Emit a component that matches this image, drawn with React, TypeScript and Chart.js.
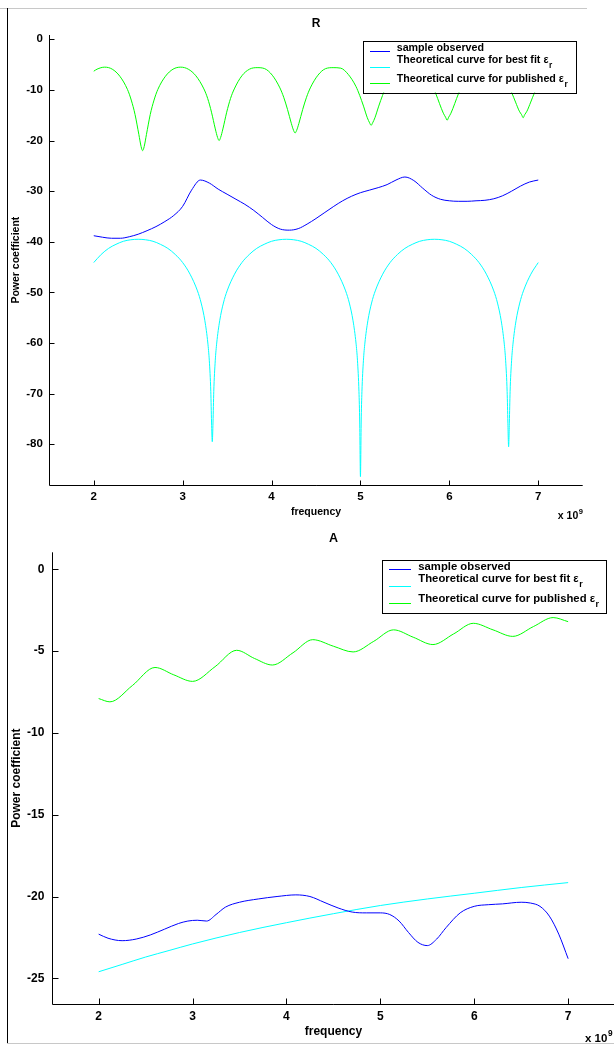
import React, { useEffect, useRef } from "react";
import { Chart, registerables } from "chart.js";

Chart.register(...registerables);

const FONT = "'Liberation Sans', Arial, Helvetica, sans-serif";
const BLUE = "#0000ff";
const CYAN = "#00ffff";
const GREEN = "#00ff00";

// ---------- tick values ----------
const freqTicks = [2, 3, 4, 5, 6, 7];
const rPowerTicks = [-80, -70, -60, -50, -40, -30, -20, -10, 0];
const aPowerTicks = [-25, -20, -15, -10, -5, 0];

// ---------- Figure R ----------
const rBlueFreq = [2.0, 2.1, 2.2, 2.3, 2.4, 2.5, 2.6, 2.7, 2.8, 2.9, 3.0, 3.1, 3.2, 3.3, 3.4, 3.5, 3.6, 3.7, 3.8, 3.9, 4.0, 4.1, 4.2, 4.3, 4.4, 4.5, 4.6, 4.7, 4.8, 4.9, 5.0, 5.1, 5.2, 5.3, 5.4, 5.5, 5.6, 5.7, 5.8, 5.9, 6.0, 6.1, 6.2, 6.3, 6.4, 6.5, 6.6, 6.7, 6.8, 6.9, 7.0];
const rBlueVal = [-38.8, -39.1, -39.3, -39.3, -39.0, -38.5, -37.8, -37.0, -36.0, -34.8, -33.0, -29.8, -27.8, -28.4, -29.6, -30.6, -31.6, -32.6, -33.8, -35.2, -36.6, -37.5, -37.7, -37.4, -36.5, -35.4, -34.2, -33.0, -31.9, -31.0, -30.3, -29.8, -29.3, -28.7, -27.8, -27.2, -27.9, -29.4, -30.8, -31.6, -31.9, -32.0, -32.0, -31.9, -31.8, -31.5, -30.9, -30.0, -29.0, -28.2, -27.8];

const rCyanFreq = [2.0, 2.0833, 2.1667, 2.25, 2.3333, 2.4167, 2.5, 2.5833, 2.6667, 2.75, 2.8333, 2.9167, 3.0, 3.0833, 3.1667, 3.2083, 3.25, 3.2833, 3.3, 3.3167, 3.325, 3.3333, 3.3417, 3.35, 3.3667, 3.3833, 3.4167, 3.4583, 3.5, 3.5833, 3.6667, 3.75, 3.8333, 3.9167, 4.0, 4.0833, 4.1667, 4.25, 4.3333, 4.4167, 4.5, 4.5833, 4.6667, 4.75, 4.8333, 4.875, 4.9167, 4.95, 4.9667, 4.9833, 4.9917, 5.0, 5.0083, 5.0167, 5.0333, 5.05, 5.0833, 5.125, 5.1667, 5.25, 5.3333, 5.4167, 5.5, 5.5833, 5.6667, 5.75, 5.8333, 5.9167, 6.0, 6.0833, 6.1667, 6.25, 6.3333, 6.4167, 6.5, 6.5417, 6.5833, 6.6167, 6.6333, 6.65, 6.6583, 6.6667, 6.675, 6.6833, 6.7, 6.7167, 6.75, 6.7917, 6.8333, 6.9167, 7.0];
const rCyanVal = [-44.1, -42.5, -41.3, -40.5, -39.9, -39.6, -39.5, -39.6, -39.9, -40.5, -41.3, -42.5, -44.1, -46.4, -49.7, -52.1, -55.6, -60.0, -63.5, -69.6, -75.6, -79.5, -75.6, -69.6, -63.5, -60.0, -55.6, -52.1, -49.7, -46.4, -44.1, -42.5, -41.3, -40.5, -39.9, -39.6, -39.5, -39.6, -39.9, -40.5, -41.3, -42.5, -44.1, -46.4, -49.7, -52.1, -55.6, -60.0, -63.5, -69.6, -75.6, -86.4, -75.6, -69.6, -63.5, -60.0, -55.6, -52.1, -49.7, -46.4, -44.1, -42.5, -41.3, -40.5, -39.9, -39.6, -39.5, -39.6, -39.9, -40.5, -41.3, -42.5, -44.1, -46.4, -49.7, -52.1, -55.6, -60.0, -63.5, -69.6, -75.6, -80.5, -75.6, -69.6, -63.5, -60.0, -55.6, -52.1, -49.7, -46.4, -44.1];

const rGreenFreq = [2.0, 2.037, 2.1225, 2.208, 2.2935, 2.379, 2.4218, 2.4645, 2.5073, 2.5329, 2.55, 2.5671, 2.5928, 2.6355, 2.6783, 2.721, 2.8065, 2.892, 2.9775, 3.063, 3.1485, 3.239, 3.2818, 3.3245, 3.3673, 3.3929, 3.41, 3.4271, 3.4528, 3.4955, 3.5383, 3.581, 3.6665, 3.752, 3.8375, 3.923, 4.0085, 4.094, 4.1368, 4.1795, 4.2223, 4.2479, 4.265, 4.2821, 4.3078, 4.3505, 4.3933, 4.436, 4.5215, 4.607, 4.6925, 4.778, 4.8635, 4.949, 4.9918, 5.0345, 5.0773, 5.1029, 5.12, 5.1371, 5.1628, 5.2055, 5.2483, 5.291, 5.3765, 5.462, 5.5475, 5.633, 5.7185, 5.804, 5.8468, 5.8895, 5.9323, 5.9579, 5.975, 5.9921, 6.0178, 6.0605, 6.1033, 6.146, 6.2315, 6.317, 6.4025, 6.488, 6.5735, 6.659, 6.7018, 6.7445, 6.7873, 6.8129, 6.83, 6.8471, 6.8728, 6.9155, 6.9583, 7.0];
const rGreenVal = [-6.3, -5.9, -5.5, -5.9, -7.3, -9.9, -12.0, -14.85, -18.8, -21.2, -22.0, -21.2, -18.8, -14.85, -12.0, -9.9, -7.3, -5.9, -5.5, -5.9, -7.2, -9.8, -11.7, -14.4, -17.7, -19.4, -20.0, -19.4, -17.7, -14.4, -11.7, -9.8, -7.2, -5.9, -5.6, -5.8, -7.1, -9.6, -11.45, -13.85, -16.6, -18.0, -18.5, -18.0, -16.6, -13.85, -11.45, -9.6, -7.1, -5.8, -5.6, -5.7, -6.95, -9.3, -11.1, -13.2, -15.5, -16.5, -17.0, -16.5, -15.5, -13.2, -11.1, -9.3, -6.95, -5.7, -5.6, -5.6, -6.8, -9.1, -10.7, -12.7, -14.6, -15.4, -16.0, -15.4, -14.6, -12.7, -10.7, -9.1, -6.8, -5.6, -5.5, -5.6, -6.7, -9.0, -10.55, -12.4, -14.2, -14.9, -15.5, -14.9, -14.2, -12.4, -10.55, -9.2];

// ---------- Figure A ----------
const aBlueFreq = [2.0, 2.1, 2.25, 2.4, 2.55, 2.7, 2.85, 2.95, 3.05, 3.15, 3.25, 3.35, 3.5, 3.7, 3.9, 4.1, 4.25, 4.4, 4.55, 4.7, 4.85, 5.0, 5.1, 5.2, 5.3, 5.4, 5.5, 5.6, 5.7, 5.85, 6.0, 6.15, 6.3, 6.5, 6.6, 6.7, 6.8, 6.9, 7.0];
const aBlueVal = [-22.3, -22.55, -22.7, -22.6, -22.35, -22.0, -21.65, -21.5, -21.45, -21.5, -21.1, -20.65, -20.35, -20.15, -20.0, -19.9, -20.0, -20.35, -20.7, -20.95, -21.0, -21.0, -21.1, -21.5, -22.2, -22.8, -23.0, -22.6, -21.9, -21.0, -20.6, -20.5, -20.45, -20.35, -20.4, -20.6, -21.2, -22.3, -23.8];

const aCyanFreq = [2.0, 2.25, 2.5, 2.75, 3.0, 3.5, 4.0, 4.5, 5.0, 5.5, 6.0, 6.5, 7.0];
const aCyanVal = [-24.6, -24.15, -23.7, -23.3, -22.9, -22.2, -21.6, -21.05, -20.55, -20.15, -19.8, -19.45, -19.15];

const aGreenFreq = [2.0, 2.12, 2.36, 2.6, 2.8, 3.0, 3.24, 3.47, 3.66, 3.85, 4.07, 4.28, 4.5, 4.71, 4.93, 5.14, 5.35, 5.56, 5.78, 5.99, 6.2, 6.41, 6.63, 6.84, 7.0];
const aGreenVal = [-7.9, -8.1, -7.1, -6.0, -6.45, -6.85, -5.95, -4.95, -5.45, -5.85, -5.1, -4.3, -4.7, -5.05, -4.4, -3.7, -4.15, -4.6, -3.95, -3.3, -3.7, -4.1, -3.5, -2.95, -3.2];

// ---------- shared text ----------
const legendTexts = ["sample observed", "Theoretical curve for best fit ε", "Theoretical curve for published ε"];
const legendSubs = ["", "r", "r"];
const legendColors = [BLUE, CYAN, GREEN];
const xLabel = "frequency";
const yLabel = "Power coefficient";

type Series = { x: number[]; y: number[]; color: string };

type Cfg = {
  title: string;
  titleY: number;
  titleSize: number;
  width: number;
  height: number;
  top: number;
  padTop: number;
  padRight: number;
  yWidth: number;
  xHeight: number;
  yMin: number;
  yMax: number;
  yTicks: number[];
  tickSize: number;
  labelSize: number;
  yTickPad: number;
  xTickPad: number;
  yTitlePad: number;
  xTitlePad: number;
  tickLen: number;
  expRight: number;
  expBaseline: number;
  expSize: number;
  legend: {
    left: number;
    top: number;
    width: number;
    height: number;
    lineX0: number;
    lineX1: number;
    textX: number;
    textY: number[];
    lineY: number[];
    size: number;
  };
  series: Series[];
};

function makeDecor(cfg: Cfg) {
  return {
    id: "matlabDecor",
    afterDraw(chart: any) {
      const { ctx, chartArea: a, scales } = chart;
      const xs = scales.x;
      const ys = scales.y;
      ctx.save();
      ctx.lineWidth = 1;
      ctx.strokeStyle = "#000";
      const L = Math.round(a.left) + 0.5;
      const B = Math.round(a.bottom) + 0.5;
      ctx.beginPath();
      ctx.moveTo(L, a.top);
      ctx.lineTo(L, B);
      ctx.lineTo(a.right, B);
      ctx.stroke();
      ctx.beginPath();
      xs.ticks.forEach((t: any) => {
        const px = Math.round(xs.getPixelForValue(t.value)) + 0.5;
        ctx.moveTo(px, B);
        ctx.lineTo(px, B - cfg.tickLen);
      });
      ys.ticks.forEach((t: any) => {
        const py = Math.round(ys.getPixelForValue(t.value)) + 0.5;
        ctx.moveTo(L, py);
        ctx.lineTo(L + cfg.tickLen, py);
      });
      ctx.stroke();

      // title
      ctx.fillStyle = "#000";
      ctx.font = `bold ${cfg.titleSize}px ${FONT}`;
      ctx.textAlign = "center";
      ctx.textBaseline = "middle";
      ctx.fillText(cfg.title, (a.left + a.right) / 2, cfg.titleY);

      // exponent label
      ctx.textBaseline = "alphabetic";
      ctx.textAlign = "left";
      const supSize = cfg.expSize * 0.72;
      ctx.font = `bold ${supSize}px ${FONT}`;
      const w9 = ctx.measureText("9").width;
      ctx.font = `bold ${cfg.expSize}px ${FONT}`;
      const wMain = ctx.measureText("x 10").width;
      const ex = cfg.expRight - w9 - wMain;
      ctx.fillText("x 10", ex, cfg.expBaseline);
      ctx.font = `bold ${supSize}px ${FONT}`;
      ctx.fillText("9", ex + wMain + 0.5, cfg.expBaseline - cfg.expSize * 0.5);

      // legend
      const lg = cfg.legend;
      ctx.fillStyle = "#fff";
      ctx.fillRect(lg.left, lg.top, lg.width, lg.height);
      ctx.strokeStyle = "#000";
      ctx.strokeRect(Math.round(lg.left) + 0.5, Math.round(lg.top) + 0.5, Math.round(lg.width), Math.round(lg.height));
      legendTexts.forEach((txt, i) => {
        const ly = Math.round(lg.top + lg.lineY[i]) + 0.5;
        ctx.strokeStyle = legendColors[i];
        ctx.beginPath();
        ctx.moveTo(Math.round(lg.left + lg.lineX0), ly);
        ctx.lineTo(Math.round(lg.left + lg.lineX1), ly);
        ctx.stroke();
        ctx.fillStyle = "#000";
        ctx.font = `bold ${lg.size}px ${FONT}`;
        ctx.textBaseline = "middle";
        ctx.textAlign = "left";
        const tx = lg.left + lg.textX;
        const ty = lg.top + lg.textY[i];
        ctx.fillText(txt, tx, ty);
        if (legendSubs[i]) {
          const w = ctx.measureText(txt).width;
          ctx.font = `bold ${lg.size * 0.78}px ${FONT}`;
          ctx.fillText(legendSubs[i], tx + w + 0.5, ty + lg.size * 0.5);
        }
      });
      ctx.restore();
    },
  };
}

function MatlabFigure({ cfg }: { cfg: Cfg }) {
  const ref = useRef<HTMLCanvasElement | null>(null);
  useEffect(() => {
    if (!ref.current) return;
    const tickFont = { family: FONT, size: cfg.tickSize, weight: "bold" as const };
    const labelFont = { family: FONT, size: cfg.labelSize, weight: "bold" as const };
    const chart = new Chart(ref.current, {
      type: "line",
      data: {
        datasets: cfg.series.map((s) => ({
          data: s.x.map((x, i) => ({ x, y: s.y[i] })),
          borderColor: s.color,
          backgroundColor: s.color,
          borderWidth: 1,
          pointRadius: 0,
          fill: false,
          cubicInterpolationMode: "monotone" as const,
        })),
      },
      options: {
        responsive: false,
        animation: false,
        events: [],
        layout: { padding: { top: cfg.padTop, right: cfg.padRight, bottom: 0, left: 0 } },
        plugins: { legend: { display: false }, tooltip: { enabled: false }, title: { display: false } },
        scales: {
          x: {
            type: "linear",
            min: 1.5,
            max: 7.5,
            grid: { display: false, drawTicks: false },
            border: { display: false },
            ticks: { color: "#000", font: tickFont, padding: cfg.xTickPad, maxRotation: 0 },
            afterBuildTicks: (s: any) => {
              s.ticks = freqTicks.map((v) => ({ value: v }));
            },
            title: { display: true, text: xLabel, color: "#000", font: labelFont, padding: { top: 0, bottom: cfg.xTitlePad } },
            afterFit: (s: any) => {
              s.height = cfg.xHeight;
            },
          },
          y: {
            type: "linear",
            min: cfg.yMin,
            max: cfg.yMax,
            grid: { display: false, drawTicks: false },
            border: { display: false },
            ticks: { color: "#000", font: tickFont, padding: cfg.yTickPad },
            afterBuildTicks: (s: any) => {
              s.ticks = cfg.yTicks.map((v) => ({ value: v }));
            },
            title: { display: true, text: yLabel, color: "#000", font: labelFont, padding: { top: cfg.yTitlePad, bottom: 0 } },
            afterFit: (s: any) => {
              s.width = cfg.yWidth;
            },
          },
        },
      },
      plugins: [makeDecor(cfg)],
    });
    return () => chart.destroy();
  }, [cfg]);
  return (
    <div style={{ position: "absolute", left: 0, top: cfg.top, width: cfg.width, height: cfg.height }}>
      <canvas ref={ref} width={cfg.width} height={cfg.height} style={{ width: cfg.width, height: cfg.height, display: "block" }} />
    </div>
  );
}

const cfgR: Cfg = {
  title: "R",
  titleY: 24,
  titleSize: 12,
  width: 614,
  height: 527,
  top: 0,
  padTop: 35,
  padRight: 31.3,
  yWidth: 49.3,
  xHeight: 41.7,
  yMin: -88.1,
  yMax: 0.85,
  yTicks: rPowerTicks,
  tickSize: 11.5,
  labelSize: 10.5,
  yTickPad: 6.5,
  xTickPad: 5,
  yTitlePad: 9.5,
  xTitlePad: 8.5,
  tickLen: 5,
  expRight: 582.5,
  expBaseline: 519,
  expSize: 10.5,
  legend: {
    left: 363.3,
    top: 40.7,
    width: 213.4,
    height: 51.8,
    lineX0: 6.7,
    lineX1: 26.7,
    textX: 33.4,
    textY: [7.6, 19.3, 38.6],
    lineY: [10.6, 26.6, 42.6],
    size: 10.7,
  },
  series: [
    { x: rBlueFreq, y: rBlueVal, color: BLUE },
    { x: rCyanFreq, y: rCyanVal, color: CYAN },
    { x: rGreenFreq, y: rGreenVal, color: GREEN },
  ],
};

const cfgA: Cfg = {
  title: "A",
  titleY: 12,
  titleSize: 12.5,
  width: 620,
  height: 519,
  top: 527,
  padTop: 25.3,
  padRight: 4.9,
  yWidth: 51.7,
  xHeight: 42,
  yMin: -26.57,
  yMax: 1.04,
  yTicks: aPowerTicks,
  tickSize: 12,
  labelSize: 12,
  yTickPad: 7.4,
  xTickPad: 5,
  yTitlePad: 9,
  xTitlePad: 7.5,
  tickLen: 6,
  expRight: 612,
  expBaseline: 515,
  expSize: 11.5,
  legend: {
    left: 382.3,
    top: 33,
    width: 224.4,
    height: 52.7,
    lineX0: 6.7,
    lineX1: 28.4,
    textX: 36,
    textY: [6.7, 19.3, 39],
    lineY: [9.3, 26, 43.3],
    size: 11.3,
  },
  series: [
    { x: aBlueFreq, y: aBlueVal, color: BLUE },
    { x: aCyanFreq, y: aCyanVal, color: CYAN },
    { x: aGreenFreq, y: aGreenVal, color: GREEN },
  ],
};

export default function App() {
  return (
    <div style={{ position: "absolute", left: 0, top: 0, width: 614, height: 1046, overflow: "hidden", background: "#fff" }}>
      <MatlabFigure cfg={cfgR} />
      <MatlabFigure cfg={cfgA} />
      <div style={{ position: "absolute", left: 0, top: 8, width: 587, height: 1, background: "#c8c8c8" }} />
      <div style={{ position: "absolute", left: 7, top: 8, width: 1, height: 1036, background: "#000" }} />
      <div style={{ position: "absolute", left: 7, top: 1043, width: 607, height: 1, background: "#c8c8c8" }} />
    </div>
  );
}
